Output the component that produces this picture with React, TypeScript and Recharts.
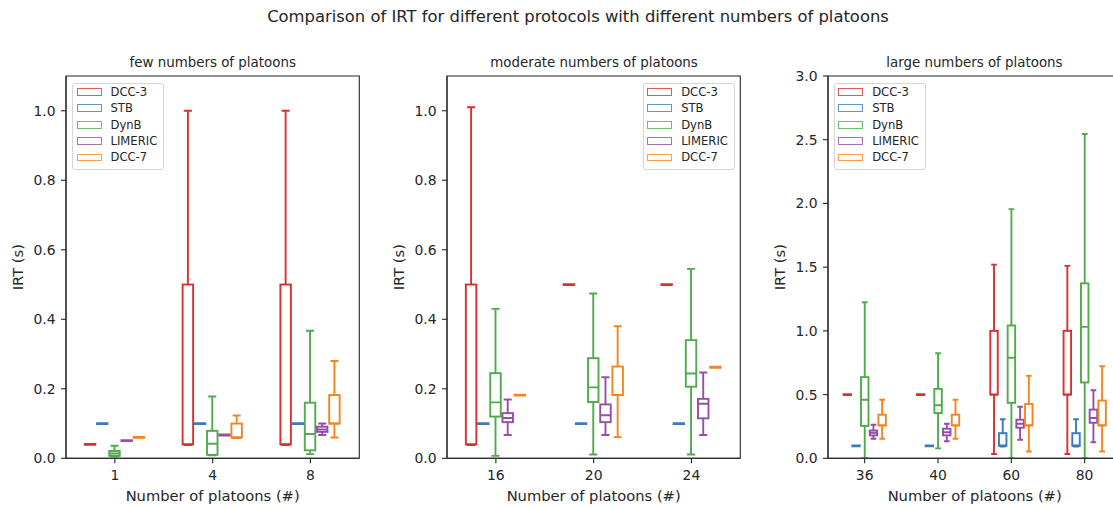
import React from 'react';
import { ComposedChart, Bar, XAxis, YAxis, Legend, ReferenceArea } from 'recharts';

const FONT = '"DejaVu Sans", Verdana, sans-serif';
const INK = '#262626';

const SERIES = ['DCC-3', 'STB', 'DynB', 'LIMERIC', 'DCC-7'];
const SERIES_COLORS = ['#d7302f', '#3b7cb8', '#4fab4c', '#954fa4', '#f5841f'];

const FEW_CATEGORIES = ['1', '4', '8'];
const MODERATE_CATEGORIES = ['16', '20', '24'];
const LARGE_CATEGORIES = ['36', '40', '60', '80'];

const SMALL_Y_TICKS = [0, 0.2, 0.4, 0.6, 0.8, 1.0];
const LARGE_Y_TICKS = [0, 0.5, 1.0, 1.5, 2.0, 2.5, 3.0];

// each entry: [whisker low, q1, median, q3, whisker high]
const FEW_DCC3 = [[0.04, 0.04, 0.04, 0.04, 0.04], [0.04, 0.04, 0.04, 0.5, 1.0], [0.04, 0.04, 0.04, 0.5, 1.0]];
const FEW_STB = [[0.1, 0.1, 0.1, 0.1, 0.1], [0.1, 0.1, 0.1, 0.1, 0.1], [0.1, 0.1, 0.1, 0.1, 0.1]];
const FEW_DYNB = [[0.005, 0.007, 0.014, 0.021, 0.036], [0.01, 0.01, 0.042, 0.079, 0.178], [0.012, 0.023, 0.07, 0.16, 0.367]];
const FEW_LIMERIC = [[0.051, 0.051, 0.051, 0.051, 0.051], [0.067, 0.067, 0.067, 0.067, 0.067], [0.067, 0.076, 0.083, 0.091, 0.1]];
const FEW_DCC7 = [[0.06, 0.06, 0.06, 0.06, 0.06], [0.06, 0.06, 0.06, 0.1, 0.123], [0.06, 0.1, 0.1, 0.182, 0.28]];

const MODERATE_DCC3 = [[0.04, 0.04, 0.04, 0.5, 1.01], [0.5, 0.5, 0.5, 0.5, 0.5], [0.5, 0.5, 0.5, 0.5, 0.5]];
const MODERATE_STB = [[0.1, 0.1, 0.1, 0.1, 0.1], [0.1, 0.1, 0.1, 0.1, 0.1], [0.1, 0.1, 0.1, 0.1, 0.1]];
const MODERATE_DYNB = [[0.007, 0.12, 0.161, 0.245, 0.43], [0.011, 0.162, 0.204, 0.288, 0.474], [0.011, 0.206, 0.244, 0.34, 0.545]];
const MODERATE_LIMERIC = [[0.067, 0.104, 0.116, 0.13, 0.169], [0.067, 0.104, 0.124, 0.155, 0.233], [0.067, 0.115, 0.157, 0.171, 0.247]];
const MODERATE_DCC7 = [[0.182, 0.182, 0.182, 0.182, 0.182], [0.061, 0.182, 0.182, 0.264, 0.38], [0.262, 0.262, 0.262, 0.262, 0.262]];

const LARGE_DCC3 = [[0.5, 0.5, 0.5, 0.5, 0.5], [0.5, 0.5, 0.5, 0.5, 0.5], [0.034, 0.5, 0.5, 1.0, 1.52], [0.034, 0.5, 0.5, 1.0, 1.51]];
const LARGE_STB = [[0.097, 0.097, 0.097, 0.097, 0.097], [0.097, 0.097, 0.097, 0.097, 0.097], [0.097, 0.097, 0.1, 0.197, 0.307], [0.097, 0.097, 0.1, 0.197, 0.307]];
const LARGE_DYNB = [[0.003, 0.254, 0.46, 0.637, 1.224], [0.078, 0.355, 0.416, 0.545, 0.824], [0.003, 0.435, 0.789, 1.042, 1.955], [0.003, 0.595, 1.031, 1.373, 2.545]];
const LARGE_LIMERIC = [[0.153, 0.18, 0.2, 0.218, 0.263], [0.134, 0.18, 0.205, 0.232, 0.271], [0.145, 0.24, 0.271, 0.303, 0.405], [0.126, 0.279, 0.316, 0.382, 0.534]];
const LARGE_DCC7 = [[0.153, 0.258, 0.258, 0.342, 0.46], [0.153, 0.258, 0.258, 0.342, 0.46], [0.053, 0.258, 0.258, 0.426, 0.647], [0.053, 0.258, 0.258, 0.453, 0.722]];

type Stats = number[][];

function buildRows(categories: string[], perSeries: Stats[]) {
  return categories.map((cat, ci) => {
    const row: any = { cat };
    SERIES.forEach((s, si) => {
      const st = perSeries[si][ci];
      row[s] = st[4];
      row[s + '__stats'] = st;
    });
    return row;
  });
}

const FEW_ROWS = buildRows(FEW_CATEGORIES, [FEW_DCC3, FEW_STB, FEW_DYNB, FEW_LIMERIC, FEW_DCC7]);
const MODERATE_ROWS = buildRows(MODERATE_CATEGORIES, [MODERATE_DCC3, MODERATE_STB, MODERATE_DYNB, MODERATE_LIMERIC, MODERATE_DCC7]);
const LARGE_ROWS = buildRows(LARGE_CATEGORIES, [LARGE_DCC3, LARGE_STB, LARGE_DYNB, LARGE_LIMERIC, LARGE_DCC7]);

const SW = 1.9;

function makeBoxShape(seriesKey: string, color: string) {
  return (props: any) => {
    const { x, y, width, height, payload } = props;
    const stats: number[] = payload[seriesKey + '__stats'];
    if (!stats || !isFinite(x) || !isFinite(y)) return <g />;
    const [mn, q1, md, q3, mx] = stats;
    const base = y + height;
    const py = (v: number) => base - (v / mx) * height;
    const cx = x + width / 2;
    const bw = width * 0.86;
    const x0 = cx - bw / 2;
    const x1 = cx + bw / 2;
    const capHalf = (width * 0.66) / 2;
    const yMin = py(mn);
    const yQ1 = py(q1);
    const yMd = py(md);
    const yQ3 = py(q3);
    const yMax = py(mx);
    const flat = Math.abs(yQ1 - yQ3) < 1;
    return (
      <g>
        {yMax < yQ3 - 0.5 && <line x1={cx} x2={cx} y1={yQ3} y2={yMax} stroke={color} strokeWidth={SW} />}
        {yMin > yQ1 + 0.5 && <line x1={cx} x2={cx} y1={yQ1} y2={yMin} stroke={color} strokeWidth={SW} />}
        {yMax < yQ3 - 0.5 && <line x1={cx - capHalf} x2={cx + capHalf} y1={yMax} y2={yMax} stroke={color} strokeWidth={SW} />}
        {yMin > yQ1 + 0.5 && <line x1={cx - capHalf} x2={cx + capHalf} y1={yMin} y2={yMin} stroke={color} strokeWidth={SW} />}
        {(mn === q1 && !flat) && <line x1={cx - capHalf} x2={cx + capHalf} y1={yMin + 0.6} y2={yMin + 0.6} stroke={color} strokeWidth={SW} />}
        {(mx === q3 && !flat) && <line x1={cx - capHalf} x2={cx + capHalf} y1={yMax - 0.6} y2={yMax - 0.6} stroke={color} strokeWidth={SW} />}
        {flat ? (
          <line x1={x0 - SW / 2} x2={x1 + SW / 2} y1={(yQ1 + yQ3) / 2} y2={(yQ1 + yQ3) / 2} stroke={color} strokeWidth={2.8} />
        ) : (
          <>
            <rect x={x0} y={yQ3} width={bw} height={yQ1 - yQ3} fill="none" stroke={color} strokeWidth={SW} />
            <line x1={x0} x2={x1} y1={yMd} y2={yMd} stroke={color} strokeWidth={SW} />
          </>
        )}
      </g>
    );
  };
}

const BOX_SHAPES = SERIES.map((s, i) => makeBoxShape(s, SERIES_COLORS[i]));

const LegendBox = () => (
  <div
    style={{
      border: '1px solid #d6d6d6',
      borderRadius: 3,
      background: 'rgba(255,255,255,0.85)',
      padding: '0px 6px 3.3px 3.4px',
      fontFamily: FONT,
      fontSize: 11.6,
      color: INK,
      boxSizing: 'border-box',
    }}
  >
    {SERIES.map((s, i) => (
      <div key={s} style={{ display: 'flex', alignItems: 'center', height: 16.4, whiteSpace: 'nowrap' }}>
        <span
          style={{
            display: 'inline-block',
            width: 23.1,
            height: 5.7,
            border: `1.3px solid ${SERIES_COLORS[i]}`,
            opacity: 0.8,
            marginRight: 8.7,
            boxSizing: 'content-box',
          }}
        />
        <span>{s}</span>
      </div>
    ))}
  </div>
);

type PanelProps = {
  left: number;
  rows: any[];
  yDomain: [number, number];
  yTicks: number[];
  legendLeft: number;
  barSize: number;
};

const axisStroke = { stroke: INK, strokeWidth: 1.1 };

function Panel({ left, rows, yDomain, yTicks, legendLeft, barSize }: PanelProps) {
  return (
    <div style={{ position: 'absolute', left, top: 0 }}>
      <ComposedChart
        width={370}
        height={508}
        data={rows}
        margin={{ top: 76, right: 10.7, bottom: 0, left: 0 }}
        barGap={0}
        barSize={barSize}
      >
        <XAxis
          dataKey="cat"
          type="category"
          height={49.7}
          tickSize={5}
          tickMargin={6.5}
          axisLine={axisStroke}
          tickLine={{ stroke: INK, strokeWidth: 1.1 }}
          tick={{ fill: INK, fontSize: 13.9, fontFamily: FONT }}
          label={{ value: 'Number of platoons (#)', position: 'insideBottom', offset: 7.5, fill: INK, fontSize: 14.7, fontFamily: FONT }}
        />
        <YAxis
          type="number"
          width={66}
          domain={yDomain}
          ticks={yTicks}
          allowDataOverflow
          interval={0}
          tickSize={5}
          tickMargin={5.5}
          tickFormatter={(v: number) => v.toFixed(1)}
          axisLine={axisStroke}
          tickLine={{ stroke: INK, strokeWidth: 1.1 }}
          tick={{ fill: INK, fontSize: 13.9, fontFamily: FONT }}
          label={{ value: 'IRT (s)', angle: -90, position: 'center', dx: -15, fill: INK, fontSize: 14.7, fontFamily: FONT }}
        />
        <ReferenceArea
          y1={yDomain[0]}
          y2={yDomain[1]}
          fill="none"
          fillOpacity={0}
          stroke={INK}
          strokeWidth={1.1}
          ifOverflow="visible"
        />
        <Legend
          layout="vertical"
          align="center"
          verticalAlign="middle"
          content={() => <LegendBox />}
          wrapperStyle={{ left: legendLeft, top: 82.7, width: 'auto', height: 'auto' }}
        />
        {SERIES.map((s, i) => (
          <Bar key={s} dataKey={s} name={s} fill="none" isAnimationActive={false} shape={BOX_SHAPES[i]} />
        ))}
      </ComposedChart>
    </div>
  );
}

export default function App() {
  return (
    <div
      style={{
        position: 'fixed',
        left: 0,
        top: 0,
        width: 1113,
        height: 508,
        overflow: 'hidden',
        background: '#ffffff',
      }}
    >
      <Panel left={0} rows={FEW_ROWS} yDomain={[0, 1.1]} yTicks={SMALL_Y_TICKS} legendLeft={72.3} barSize={12.2} />
      <Panel left={381.3} rows={MODERATE_ROWS} yDomain={[0, 1.1]} yTicks={SMALL_Y_TICKS} legendLeft={261.7} barSize={12.2} />
      <Panel left={761.7} rows={LARGE_ROWS} yDomain={[0, 3]} yTicks={LARGE_Y_TICKS} legendLeft={72.3} barSize={8.7} />
      <svg width={1113} height={508} style={{ position: 'absolute', left: 0, top: 0, pointerEvents: 'none' }}>
        <text x={578} y={22} textAnchor="middle" fontFamily={FONT} fontSize={16.4} fill={INK}>
          Comparison of IRT for different protocols with different numbers of platoons
        </text>
        <text x={212.7} y={67} textAnchor="middle" fontFamily={FONT} fontSize={13.4} fill={INK}>few numbers of platoons</text>
        <text x={594} y={67} textAnchor="middle" fontFamily={FONT} fontSize={13.4} fill={INK}>moderate numbers of platoons</text>
        <text x={974.4} y={67} textAnchor="middle" fontFamily={FONT} fontSize={13.4} fill={INK}>large numbers of platoons</text>
      </svg>
    </div>
  );
}
